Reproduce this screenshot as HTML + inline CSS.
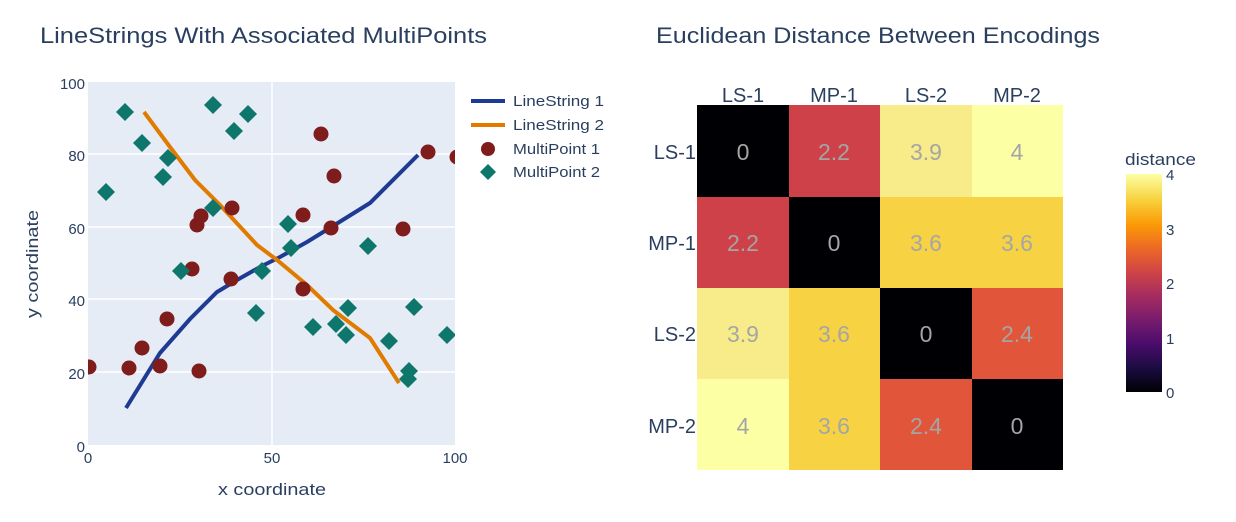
<!DOCTYPE html>
<html><head><meta charset="utf-8"><style>
body{margin:0;background:#fff;}
svg text{font-family:"Liberation Sans",sans-serif;}
</style></head><body>
<svg width="1236" height="517" xmlns="http://www.w3.org/2000/svg">
<defs>
<linearGradient id="cb" x1="0" y1="1" x2="0" y2="0">
<stop offset="0" stop-color="#000004"/><stop offset="0.11" stop-color="#1b0c41"/><stop offset="0.22" stop-color="#4a0c6b"/><stop offset="0.33" stop-color="#781c6d"/><stop offset="0.44" stop-color="#a52c60"/><stop offset="0.55" stop-color="#cf4446"/><stop offset="0.66" stop-color="#ed6925"/><stop offset="0.77" stop-color="#fb9b06"/><stop offset="0.88" stop-color="#f7d13d"/><stop offset="1" stop-color="#fcffa4"/>
</linearGradient>
</defs>
<text x="40" y="43" font-size="22" fill="#2a3f5f" textLength="447" lengthAdjust="spacingAndGlyphs">LineStrings With Associated MultiPoints</text>
<text x="656" y="43" font-size="22" fill="#2a3f5f" textLength="444" lengthAdjust="spacingAndGlyphs">Euclidean Distance Between Encodings</text>
<rect x="88" y="82" width="367" height="363" fill="#e5ecf6"/>
<g stroke="#fff" stroke-width="1.5">
<line x1="272" y1="82" x2="272" y2="445"/>
<line x1="88" y1="154" x2="455" y2="154"/><line x1="88" y1="227" x2="455" y2="227"/><line x1="88" y1="299" x2="455" y2="299"/><line x1="88" y1="372" x2="455" y2="372"/>
</g>
<g font-size="15" fill="#2a3f5f" text-anchor="end">
<text x="85" y="89">100</text><text x="85" y="161">80</text><text x="85" y="234">60</text><text x="85" y="306">40</text><text x="85" y="379">20</text><text x="85" y="452">0</text>
</g>
<g font-size="15" fill="#2a3f5f" text-anchor="middle">
<text x="88" y="463">0</text><text x="272" y="463">50</text><text x="455" y="463">100</text>
</g>
<text x="218" y="495" font-size="17" fill="#2a3f5f" textLength="108" lengthAdjust="spacingAndGlyphs">x coordinate</text>
<text transform="translate(38,318) rotate(-90)" font-size="17" fill="#2a3f5f" textLength="108" lengthAdjust="spacingAndGlyphs">y coordinate</text>
<svg x="88" y="82" width="367" height="363" overflow="hidden"><g transform="translate(-88,-82)">
<polyline fill="none" stroke="#1f3a93" stroke-width="4" points="126,408 160,353 190,319 217,292 237,280 260,267 280,257 307,242 333,226 370,203 418,155"/>
<polyline fill="none" stroke="#e07b00" stroke-width="4" points="144,112 170,147 195,180 220,205 257,245 277,260 307,285 333,310 370,338 399,383"/>
<g fill="#7f1c1c">
<circle cx="89" cy="367" r="7.5"/><circle cx="129" cy="368" r="7.5"/><circle cx="142" cy="348" r="7.5"/><circle cx="160" cy="366" r="7.5"/><circle cx="167" cy="319" r="7.5"/><circle cx="199" cy="371" r="7.5"/><circle cx="192" cy="269" r="7.5"/><circle cx="231" cy="279" r="7.5"/><circle cx="197" cy="225" r="7.5"/><circle cx="201" cy="216" r="7.5"/><circle cx="232" cy="208" r="7.5"/><circle cx="303" cy="215" r="7.5"/><circle cx="331" cy="228" r="7.5"/><circle cx="303" cy="289" r="7.5"/><circle cx="321" cy="134" r="7.5"/><circle cx="334" cy="176" r="7.5"/><circle cx="403" cy="229" r="7.5"/><circle cx="428" cy="152" r="7.5"/><circle cx="457" cy="157" r="7.5"/>
</g>
<g fill="#0e766a">
<path d="M0,-9L9,0L0,9L-9,0Z" transform="translate(125,112)"/>
<path d="M0,-9L9,0L0,9L-9,0Z" transform="translate(142,143)"/><path d="M0,-9L9,0L0,9L-9,0Z" transform="translate(168,158)"/><path d="M0,-9L9,0L0,9L-9,0Z" transform="translate(163,177)"/><path d="M0,-9L9,0L0,9L-9,0Z" transform="translate(106,192)"/><path d="M0,-9L9,0L0,9L-9,0Z" transform="translate(213,105)"/><path d="M0,-9L9,0L0,9L-9,0Z" transform="translate(234,131)"/><path d="M0,-9L9,0L0,9L-9,0Z" transform="translate(248,114)"/><path d="M0,-9L9,0L0,9L-9,0Z" transform="translate(213,208)"/><path d="M0,-9L9,0L0,9L-9,0Z" transform="translate(181,271)"/><path d="M0,-9L9,0L0,9L-9,0Z" transform="translate(288,224)"/><path d="M0,-9L9,0L0,9L-9,0Z" transform="translate(291,248)"/><path d="M0,-9L9,0L0,9L-9,0Z" transform="translate(262,271)"/><path d="M0,-9L9,0L0,9L-9,0Z" transform="translate(256,313)"/><path d="M0,-9L9,0L0,9L-9,0Z" transform="translate(313,327)"/><path d="M0,-9L9,0L0,9L-9,0Z" transform="translate(336,324)"/><path d="M0,-9L9,0L0,9L-9,0Z" transform="translate(348,308)"/><path d="M0,-9L9,0L0,9L-9,0Z" transform="translate(346,335)"/><path d="M0,-9L9,0L0,9L-9,0Z" transform="translate(368,246)"/><path d="M0,-9L9,0L0,9L-9,0Z" transform="translate(389,341)"/><path d="M0,-9L9,0L0,9L-9,0Z" transform="translate(409,371)"/><path d="M0,-9L9,0L0,9L-9,0Z" transform="translate(408,379)"/><path d="M0,-9L9,0L0,9L-9,0Z" transform="translate(414,307)"/><path d="M0,-9L9,0L0,9L-9,0Z" transform="translate(447,335)"/>
</g>
</g></svg>
<g font-size="15" fill="#2a3f5f">
<line x1="471" y1="101" x2="505" y2="101" stroke="#1f3a93" stroke-width="4"/><text x="513" y="106" textLength="91" lengthAdjust="spacingAndGlyphs">LineString 1</text>
<line x1="471" y1="125" x2="505" y2="125" stroke="#e07b00" stroke-width="4"/><text x="513" y="130" textLength="91" lengthAdjust="spacingAndGlyphs">LineString 2</text>
<circle cx="488" cy="149" r="7" fill="#7f1c1c"/><text x="513" y="154" textLength="87" lengthAdjust="spacingAndGlyphs">MultiPoint 1</text>
<path d="M488,164L496,172L488,180L480,172Z" fill="#0e766a"/><text x="513" y="177" textLength="87" lengthAdjust="spacingAndGlyphs">MultiPoint 2</text>
</g>
<g>
<rect x="697" y="105" width="92" height="92" fill="#000004"/><rect x="789" y="105" width="91" height="92" fill="#cf4148"/><rect x="880" y="105" width="92" height="92" fill="#f8ec8a"/><rect x="972" y="105" width="91" height="92" fill="#fcffa4"/>
<rect x="697" y="197" width="92" height="91" fill="#cf4148"/><rect x="789" y="197" width="91" height="91" fill="#000004"/><rect x="880" y="197" width="92" height="91" fill="#f7d344"/><rect x="972" y="197" width="91" height="91" fill="#f7d344"/>
<rect x="697" y="288" width="92" height="91" fill="#f8ec8a"/><rect x="789" y="288" width="91" height="91" fill="#f7d344"/><rect x="880" y="288" width="92" height="91" fill="#000004"/><rect x="972" y="288" width="91" height="91" fill="#e1563a"/>
<rect x="697" y="379" width="92" height="91" fill="#fcffa4"/><rect x="789" y="379" width="91" height="91" fill="#f7d344"/><rect x="880" y="379" width="92" height="91" fill="#e1563a"/><rect x="972" y="379" width="91" height="91" fill="#000004"/>
</g>
<g font-size="23" fill="#a5a5a5" text-anchor="middle">
<text x="743" y="160">0</text><text x="834" y="160">2.2</text><text x="926" y="160">3.9</text><text x="1017" y="160">4</text>
<text x="743" y="251">2.2</text><text x="834" y="251">0</text><text x="926" y="251">3.6</text><text x="1017" y="251">3.6</text>
<text x="743" y="342">3.9</text><text x="834" y="342">3.6</text><text x="926" y="342">0</text><text x="1017" y="342">2.4</text>
<text x="743" y="434">4</text><text x="834" y="434">3.6</text><text x="926" y="434">2.4</text><text x="1017" y="434">0</text>
</g>
<g font-size="20" fill="#2a3f5f" text-anchor="middle">
<text x="743" y="102">LS-1</text><text x="834" y="102">MP-1</text><text x="926" y="102">LS-2</text><text x="1017" y="102">MP-2</text>
</g>
<g font-size="20" fill="#2a3f5f" text-anchor="end">
<text x="696" y="159">LS-1</text><text x="696" y="250">MP-1</text><text x="696" y="341">LS-2</text><text x="696" y="433">MP-2</text>
</g>
<text x="1125" y="165" font-size="17" fill="#2a3f5f" textLength="71" lengthAdjust="spacingAndGlyphs">distance</text>
<rect x="1126" y="174" width="36" height="218" fill="url(#cb)"/>
<g font-size="15" fill="#2a3f5f">
<text x="1166" y="180">4</text><text x="1166" y="235">3</text><text x="1166" y="289">2</text><text x="1166" y="344">1</text><text x="1166" y="398">0</text>
</g>
</svg>
</body></html>
